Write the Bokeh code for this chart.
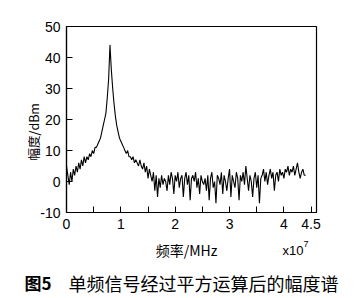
import math
from bokeh.plotting import figure
from bokeh.models import FixedTicker, Label, Range1d
from bokeh.layouts import column
from bokeh.embed import file_html
from bokeh.resources import INLINE

# frequency grid (units of 1e7 Hz), step 0.025
freq_step = 0.025

# amplitude (dBm)
amp_low = [
    5, 2, -1, 3, 0, 4, 2, 5, 3, 6,
    4, 7, 5, 8, 6, 8, 7, 9, 8, 10,
    9, 11, 11, 12, 13, 14, 16, 18, 20, 22,
    27, 33, 44, 36, 30, 25, 21, 18, 16, 14,
    13, 12, 11, 10, 9, 10, 8, 8, 7, 8,
    6, 7, 6, 5, 7, 5, 4, 6, 3, 5,
    1, 4, 2, 0, 3, -3, 2, -5, 1, -2,
    2, -1, 1,
]
amp_noise = [
    0, -3, 2, -1, 3, 1, -4, 2, 0, 3,
    -2, 1, 2, -5, 1, 3, -1, 2, -6, 1,
    2, 0, 3, -2, 1, -4, 2, 0, -1, 1,
    -3, 2, -6, 1, 3, -2, 0, -7, 2, 1,
    -1, 3, -4, 2, 0, -3, 1, 4, -5, 2,
    0, -2, 3, 1, -6, 2, 0, 3, -1, 5,
    1, -3, 2, 0, -5, 1, 3, -2, 2, -7,
    1, 2, 4, 0, 3, -1, 2, 4, 1, 3,
    -3, 2, 3, 0, 4, 2, 3, 1, 4, 3,
    5, 2, 4, 3, 5, 2, 4, 6, 3, 1,
    3, 4, 2, 2,
]
amp = amp_low + amp_noise
freq = [round(i * freq_step, 3) for i in range(len(amp))]

x_ticks = [0, 0.5, 1, 1.5, 2, 2.5, 3, 3.5, 4, 4.5]
x_tick_labels = {0: "0", 0.5: "", 1: "1", 1.5: "", 2: "2", 2.5: "", 3: "3", 3.5: "", 4: "4", 4.5: "4.5"}
y_ticks = [-10, 0, 10, 20, 30, 40, 50]
y_tick_labels = {-10: "-10", 0: "0", 10: "10", 20: "20", 30: "30", 40: "40", 50: "50"}

W = 355
H_TOP = 236
H_BOT = 62
cjk = "Noto Sans CJK SC"

p = figure(width=W, height=H_TOP, output_backend="svg", toolbar_location=None,
           x_range=Range1d(0, 4.6), y_range=Range1d(-10, 50),
           min_border_left=66, min_border_right=39, min_border_top=26, min_border_bottom=24)
p.frame_align = False
p.background_fill_color = "white"
p.border_fill_color = "white"
p.outline_line_color = "black"
p.outline_line_width = 1.2
p.xgrid.visible = False
p.ygrid.visible = False

p.line(freq, amp, line_color="black", line_width=1.1)

for ax in (p.xaxis[0], p.yaxis[0]):
    ax.axis_line_color = "black"
    ax.axis_line_width = 1.2
    ax.major_tick_in = 6
    ax.major_tick_out = 0
    ax.major_tick_line_color = "black"
    ax.minor_tick_line_color = None
    ax.major_label_text_font = "Liberation Sans"
    ax.major_label_text_font_size = "14px"
    ax.major_label_text_color = "black"

p.xaxis[0].ticker = FixedTicker(ticks=x_ticks)
p.xaxis[0].major_label_overrides = x_tick_labels
p.xaxis[0].major_label_standoff = 6
p.yaxis[0].ticker = FixedTicker(ticks=y_ticks)
p.yaxis[0].major_label_overrides = y_tick_labels
p.yaxis[0].major_label_standoff = 6
p.yaxis[0].axis_label = "幅度/dBm" + "\u3000\u3000"
p.yaxis[0].axis_label_text_font = cjk
p.yaxis[0].axis_label_text_font_size = "12.5px"
p.yaxis[0].axis_label_text_font_style = "normal"
p.yaxis[0].axis_label_text_color = "black"
p.yaxis[0].axis_label_standoff = -6

# strip below the plot for the axis title row and the caption
c = figure(width=W, height=H_BOT, output_backend="svg", toolbar_location=None,
           x_range=Range1d(0, W), y_range=Range1d(0, H_BOT),
           x_axis_type=None, y_axis_type=None,
           min_border_left=0, min_border_right=0, min_border_top=0, min_border_bottom=0)
c.frame_align = False
c.outline_line_color = None
c.xgrid.visible = False
c.ygrid.visible = False
c.background_fill_color = "white"
c.border_fill_color = "white"

def lab(px, py, **kw):
    c.add_layout(Label(x=px, y=H_TOP + H_BOT - py, text_baseline="middle",
                       text_color="black", **kw))

lab(186, 249, text="频率/MHz", text_align="center", text_font=cjk, text_font_size="14px")
lab(282, 250, text="x10", text_align="left", text_font="Liberation Sans", text_font_size="13px")
lab(303, 243, text="7", text_align="left", text_font="Liberation Sans", text_font_size="9px")
lab(24, 282, text="图5", text_align="left", text_font_style="bold", text_font=cjk, text_font_size="17px")
lab(68, 282, text="单频信号经过平方运算后的幅度谱", text_align="left", text_font=cjk, text_font_size="18px")

layout = column(p, c, spacing=0)
open("out.html", "w").write(file_html(layout, INLINE))
